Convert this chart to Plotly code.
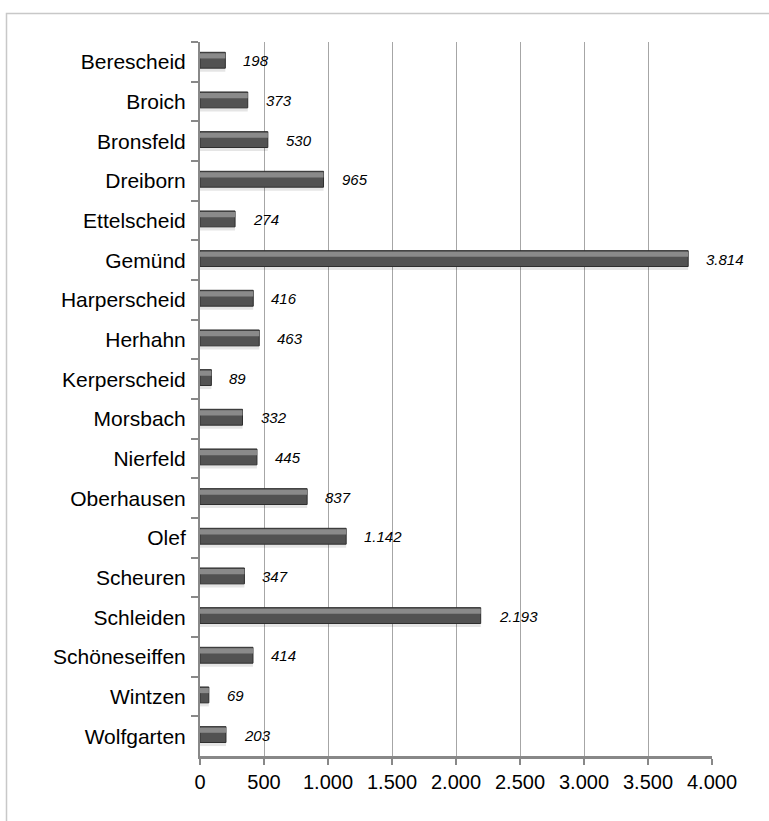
import plotly.graph_objects as go

categories = ["Berescheid", "Broich", "Bronsfeld", "Dreiborn", "Ettelscheid", "Gemünd",
              "Harperscheid", "Herhahn", "Kerperscheid", "Morsbach", "Nierfeld", "Oberhausen",
              "Olef", "Scheuren", "Schleiden", "Schöneseiffen", "Wintzen", "Wolfgarten"]
values = [198, 373, 530, 965, 274, 3814, 416, 463, 89, 332, 445, 837, 1142, 347, 2193, 414, 69, 203]
tick_vals = [0, 500, 1000, 1500, 2000, 2500, 3000, 3500, 4000]


def de(n):
    return f"{n:,}".replace(",", ".")


tick_text = [de(v) for v in tick_vals]
labels = [de(v) for v in values]

fig = go.Figure()
# soft shadow
fig.add_trace(go.Bar(y=categories, x=values, orientation="h", width=0.45, offset=-0.20,
                     marker=dict(color="rgba(0,0,0,0.10)", line=dict(width=0)),
                     hoverinfo="skip", showlegend=False))
# main bar
fig.add_trace(go.Bar(y=categories, x=values, orientation="h", width=0.40, offset=-0.24,
                     marker=dict(color="#525252", line=dict(color="#2e2e2e", width=1)),
                     showlegend=False))
# bevel highlight
fig.add_trace(go.Bar(y=categories, x=values, orientation="h", width=0.13, offset=-0.215,
                     marker=dict(color="#8a8a8a", line=dict(width=0)),
                     hoverinfo="skip", showlegend=False))

for c, v, t in zip(categories, values, labels):
    fig.add_annotation(x=v, y=c, text=t, showarrow=False, xanchor="left", xshift=16,
                       yshift=1,
                       font=dict(family="Liberation Sans, Arial", size=15, color="#000000",
                                 style="italic"))

fig.update_layout(
    width=769, height=821,
    margin=dict(l=200, r=57, t=42, b=65),
    paper_bgcolor="white", plot_bgcolor="white",
    barmode="overlay",
    font=dict(family="Liberation Sans, Arial", size=20, color="#000000"),
    xaxis=dict(range=[0, 4000], tickvals=tick_vals, ticktext=tick_text,
               showgrid=True, gridcolor="#a6a6a6", gridwidth=1,
               showline=True, linecolor="#888888", linewidth=3,
               ticks="outside", ticklen=6, tickcolor="#888888", tickwidth=1.5, zeroline=False,
               tickfont=dict(size=20)),
    yaxis=dict(autorange="reversed", showline=True, linecolor="#888888", linewidth=2,
               ticks="outside", ticklen=7, tickcolor="#888888", tickwidth=1.5, tickson="boundaries",
               showgrid=False, tickfont=dict(size=21), ticklabelstandoff=8),
    shapes=[dict(type="rect", xref="paper", yref="paper",
                 x0=(6.5 - 200) / 512, x1=1.5, y0=-0.5, y1=1 + (42 - 13.5) / 714,
                 line=dict(color="#c8c8c8", width=1.5), layer="below")],
)

fig.write_html("out.html", config={"displayModeBar": False},
               post_script="document.body.style.margin='0';")
